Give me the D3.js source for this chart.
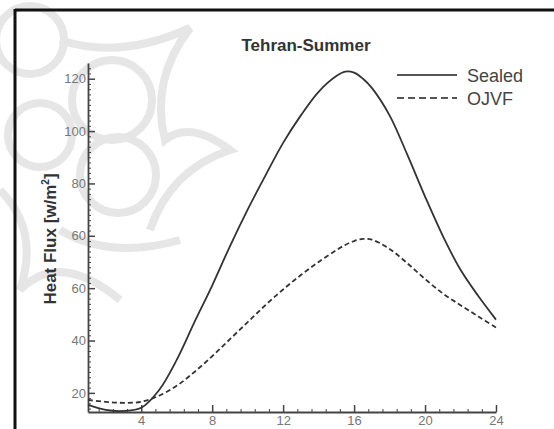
<!DOCTYPE html>
<html>
<head>
<meta charset="utf-8">
<script src="https://cdn.jsdelivr.net/npm/d3@7"></script>
<style>
  html, body { margin: 0; padding: 0; background: #fff; }
  svg { display: block; font-family: "Liberation Sans", Arial, sans-serif; }
</style>
</head>
<body>
<svg id="chart" width="554" height="429"></svg>
<script>
// Hour of day
const hours = [1, 2, 3, 4, 5, 6, 7, 8, 9, 10, 11, 12, 13, 14, 15, 15.5, 16, 16.5, 17, 18, 19, 20, 21, 22, 23, 24];
// Heat flux per hour, sealed roof
const sealed = [-4.6, -6.5, -6.9, -5.7, 1, 12.6, 27, 41, 56, 70, 83, 95.5, 106, 115, 121, 122.7, 122.3, 120, 116.5, 106, 91, 75, 60, 47, 37, 28];
// Heat flux per hour, OJVF roof
const ojvf = [-2.7, -3.4, -3.8, -3.4, -1.1, 2.7, 8, 14, 20.5, 27, 33.5, 39.5, 45, 50, 54.5, 56.5, 58, 58.8, 58.5, 55, 49.5, 43.5, 38, 33.5, 29.2, 25];

const xTicks = [4, 8, 12, 16, 20, 24];
const yTicks = [0, 20, 40, 60, 80, 100, 120];
const yTickLabels = ["20", "40", "60", "60", "80", "100", "120"];
const seriesNames = ["Sealed", "OJVF"];
const titleText = "Tehran-Summer";
const yTitle = "Heat Flux [w/m";

const svg = d3.select("#chart");

// decorative ornament in the upper left background
const orn = svg.append("g").attr("fill", "none").attr("stroke", "#e6e6e6").attr("stroke-width", 8);
orn.append("circle").attr("cx", 30).attr("cy", 40).attr("r", 34);
orn.append("circle").attr("cx", 112).attr("cy", 100).attr("r", 40);
orn.append("circle").attr("cx", 40).attr("cy", 135).attr("r", 32);
orn.append("circle").attr("cx", 118).attr("cy", 175).attr("r", 38);
orn.append("path").attr("d", "M60,40 Q120,60 190,28 Q150,80 165,140 Q190,120 230,150 Q170,170 150,230");
orn.append("path").attr("d", "M0,190 Q40,230 20,290 Q60,250 120,300");
orn.append("path").attr("d", "M60,230 Q110,260 180,240");

// page frame
svg.append("line").attr("x1", 15).attr("x2", 554).attr("y1", 10).attr("y2", 10)
  .attr("stroke", "#111").attr("stroke-width", 3);
svg.append("line").attr("x1", 15).attr("x2", 15).attr("y1", 9).attr("y2", 429)
  .attr("stroke", "#111").attr("stroke-width", 3);

const x = d3.scaleLinear().domain([1, 24]).range([88, 496]);
const y = d3.scaleLinear().domain([-7.3, 126]).range([412, 63]);

const axisColor = "#444";

// minor ticks
const xMinor = [];
xTicks.forEach(t => { for (let k = 1; k <= 4; k++) { const v = t - k * 0.8; if (v >= 1) xMinor.push(v); } });
const yMinor = d3.range(-6, 126, 2).filter(v => v % 20 !== 0);

const gxm = svg.append("g").attr("transform", `translate(0,${y.range()[0]})`)
  .call(d3.axisBottom(x).tickValues(xMinor).tickSizeInner(-3).tickSizeOuter(0).tickFormat(""));
const gym = svg.append("g").attr("transform", `translate(${x.range()[0]},0)`)
  .call(d3.axisLeft(y).tickValues(yMinor).tickSizeInner(-3).tickSizeOuter(0).tickFormat(""));
[gxm, gym].forEach(g => {
  g.select(".domain").remove();
  g.selectAll("line").attr("stroke", axisColor).attr("stroke-width", 1);
});

const gx = svg.append("g").attr("transform", `translate(0,${y.range()[0]})`)
  .call(d3.axisBottom(x).tickValues(xTicks).tickSizeInner(-7).tickSizeOuter(0).tickPadding(4));
const gy = svg.append("g").attr("transform", `translate(${x.range()[0]},0)`)
  .call(d3.axisLeft(y).tickValues(yTicks).tickSizeInner(-7).tickSizeOuter(0).tickPadding(2)
    .tickFormat((d, i) => yTickLabels[i]));
[gx, gy].forEach(g => {
  g.select(".domain").attr("stroke", axisColor).attr("stroke-width", 1.8);
  g.selectAll(".tick line").attr("stroke", axisColor).attr("stroke-width", 1.5);
  g.selectAll(".tick text").attr("fill", "#777").attr("font-size", 13)
    .attr("font-family", "'Liberation Sans', Arial, sans-serif");
});

// curves
const line = d3.line().x((d, i) => x(hours[i])).y(d => y(d)).curve(d3.curveCatmullRom.alpha(0.5));
svg.append("path").datum(sealed).attr("d", line)
  .attr("fill", "none").attr("stroke", "#333").attr("stroke-width", 1.8);
svg.append("path").datum(ojvf).attr("d", line)
  .attr("fill", "none").attr("stroke", "#333").attr("stroke-width", 1.8)
  .attr("stroke-dasharray", "5,3");

// title
svg.append("text").attr("x", 306).attr("y", 51).attr("text-anchor", "middle")
  .attr("font-size", 17).attr("font-weight", "bold").attr("fill", "#333").text(titleText);

// y axis title
const yt = svg.append("text").attr("transform", "translate(56,239) rotate(-90)")
  .attr("text-anchor", "middle").attr("font-size", 17).attr("font-weight", "bold").attr("fill", "#333");
yt.append("tspan").text(yTitle);
yt.append("tspan").attr("font-size", 10).attr("dy", -7).text("2");
yt.append("tspan").attr("dy", 7).text("]");

// legend
const leg = svg.append("g");
seriesNames.forEach((name, i) => {
  const ly = 75 + i * 23;
  leg.append("line").attr("x1", 397).attr("x2", 457).attr("y1", ly).attr("y2", ly)
    .attr("stroke", "#555").attr("stroke-width", 2)
    .attr("stroke-dasharray", i === 1 ? "7,4" : null);
  leg.append("text").attr("x", 467).attr("y", ly + 6.5).attr("font-size", 18)
    .attr("fill", "#444").text(name);
});
</script>
</body>
</html>
